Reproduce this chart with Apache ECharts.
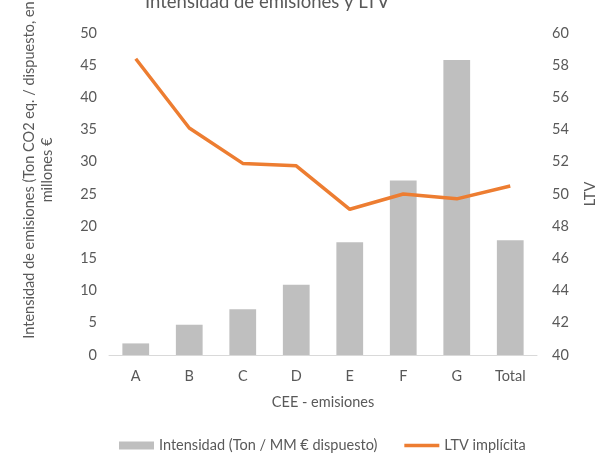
<!DOCTYPE html>
<html><head><meta charset="utf-8">
<script src="https://cdn.jsdelivr.net/npm/echarts@6/dist/echarts.min.js"></script>
<style>html,body{margin:0;padding:0;background:#fff}#c{width:616px;height:454px}</style>
</head><body><div id="c"></div>
<script>
const categories = ['A','B','C','D','E','F','G','Total'];
const intensidad = [1.8, 4.7, 7.1, 10.9, 17.5, 27.1, 45.8, 17.8];
const ltv = [58.4, 54.1, 51.9, 51.75, 49.05, 50.0, 49.7, 50.5];
const leftTicks = {min:0, max:50, interval:5};
const rightTicks = {min:40, max:60, interval:2};

const FONT = 'Lato';
const FS = 14.5;
const TXT = '#595959';
const chart = echarts.init(document.getElementById('c'));
chart.setOption({
  animation:false,
  textStyle:{fontFamily:FONT},
  title:{text:'Intensidad de emisiones y LTV', left:140, top:-12,
    textStyle:{fontFamily:FONT, fontSize:18.5, fontWeight:'normal', color:TXT}},
  grid:{left:109, right:79, top:33, bottom:99},
  legend:{top:433, left:114, itemGap:27, itemWidth:35, itemHeight:8,
    textStyle:{fontFamily:FONT, fontSize:FS, color:TXT},
    data:[{name:'Intensidad (Ton / MM € dispuesto)', icon:'rect'},
          {name:'LTV implícita', icon:'path://M0,0h35v3.5h-35z'}]},
  xAxis:{type:'category', data:categories, name:'CEE - emisiones', nameLocation:'middle', nameGap:40,
    nameTextStyle:{fontFamily:FONT, fontSize:FS, color:TXT},
    axisLine:{lineStyle:{color:'#d9d9d9'}}, axisTick:{show:false},
    axisLabel:{fontFamily:FONT, fontSize:FS, color:TXT, margin:14}},
  yAxis:[
    {type:'value', min:leftTicks.min, max:leftTicks.max, interval:leftTicks.interval,
     splitLine:{show:false}, axisLine:{show:false}, axisTick:{show:false},
     axisLabel:{fontFamily:FONT, fontSize:FS, color:TXT, margin:12}},
    {type:'value', min:rightTicks.min, max:rightTicks.max, interval:rightTicks.interval,
     splitLine:{show:false}, axisLine:{show:false}, axisTick:{show:false},
     name:'LTV', nameLocation:'middle', nameGap:46, nameRotate:90,
     nameTextStyle:{fontFamily:FONT, fontSize:FS, color:TXT},
     axisLabel:{fontFamily:FONT, fontSize:FS, color:TXT, margin:15}}
  ],
  graphic:[{type:'text', x:38, y:170, rotation:Math.PI/2,
    style:{text:'Intensidad de emisiones (Ton CO2 eq. / dispuesto, en\nmillones €',
      font:FS+'px '+FONT, fill:TXT, align:'center', verticalAlign:'middle', lineHeight:18}}],
  series:[
    {name:'Intensidad (Ton / MM € dispuesto)', type:'bar', data:intensidad, barWidth:'50%',
     itemStyle:{color:'#bfbfbf'}, yAxisIndex:0},
    {name:'LTV implícita', type:'line', data:ltv, yAxisIndex:1, symbol:'none',
     lineStyle:{color:'#ed7d31', width:3.5}, itemStyle:{color:'#ed7d31'}}
  ]
});
</script></body></html>
